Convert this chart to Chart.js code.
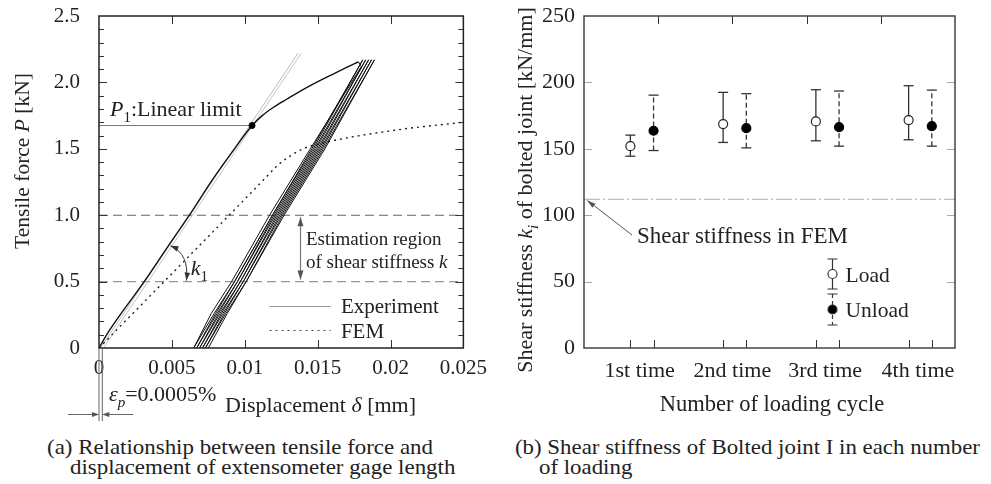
<!DOCTYPE html>
<html>
<head>
<meta charset="utf-8">
<script src="https://cdn.jsdelivr.net/npm/chart.js@4.4.0/dist/chart.umd.min.js"></script>
<style>
  body { margin: 0; background: #fff; }
  #wrap { position: relative; width: 991px; height: 484px; overflow: hidden; font-family: 'Liberation Serif', 'Times New Roman', serif; }
  canvas { position: absolute; top: 0; }
  #chartA { left: 0; }
  #chartB { left: 495px; }
  .cap { position: absolute; font-size: 21px; color: #222; white-space: nowrap; transform-origin: 0 0; line-height: 1; font-family: 'Liberation Serif', 'Times New Roman', serif; }
</style>
</head>
<body>
<div id="wrap">
  <canvas id="chartA" width="495" height="430"></canvas>
  <canvas id="chartB" width="496" height="430"></canvas>
  <div class="cap" id="capA1" style="left:47px;top:437px">(a) Relationship between tensile force and</div>
  <div class="cap" id="capA2" style="left:70px;top:457px">displacement of extensometer gage length</div>
  <div class="cap" id="capB1" style="left:515px;top:437px">(b) Shear stiffness of Bolted joint I in each number</div>
  <div class="cap" id="capB2" style="left:539px;top:457px">of loading</div>
</div>
<script>
// ---- (a) tensile force vs displacement ----
const expLoadX = [0, 0.0007, 0.0031, 0.0047, 0.0062, 0.0078, 0.0091, 0.0105, 0.0112, 0.0120, 0.0129, 0.0144, 0.0162, 0.0176, 0.0178];
const expLoadY = [0, 0.13, 0.50, 0.76, 1.00, 1.27, 1.47, 1.675, 1.75, 1.815, 1.875, 1.97, 2.07, 2.145, 2.155];

// unloading / reloading loops (down, up, down, ...)
const cycleX = [
  0.0178, 0.0180, 0.0145, 0.0117, 0.0091, 0.0077, 0.0065,
  0.0079, 0.0093, 0.0119, 0.0147, 0.0181,
  0.0146, 0.0119, 0.0093, 0.0080, 0.0067,
  0.0081, 0.0095, 0.0121, 0.0149, 0.0183,
  0.0148, 0.0120, 0.0095, 0.0082, 0.0069,
  0.0083, 0.0097, 0.0123, 0.0151, 0.0185,
  0.0150, 0.0122, 0.0097, 0.0084, 0.0071,
  0.0085, 0.0099, 0.0125, 0.0153, 0.0187,
  0.0152, 0.0124, 0.0099, 0.0086, 0.0073,
  0.0087, 0.0101, 0.0127, 0.0155, 0.0189,
  0.0154, 0.0126, 0.0101, 0.0088, 0.0075
];
const cycleY = [
  2.155, 2.12, 1.5, 1.0, 0.5, 0.26, 0,
  0.26, 0.5, 1.0, 1.5, 2.17,
  1.5, 1.0, 0.5, 0.26, 0,
  0.26, 0.5, 1.0, 1.5, 2.17,
  1.5, 1.0, 0.5, 0.26, 0,
  0.26, 0.5, 1.0, 1.5, 2.17,
  1.5, 1.0, 0.5, 0.26, 0,
  0.26, 0.5, 1.0, 1.5, 2.17,
  1.5, 1.0, 0.5, 0.26, 0,
  0.26, 0.5, 1.0, 1.5, 2.17,
  1.5, 1.0, 0.5, 0.26, 0
];

const femX = [0, 0.0115, 0.0122, 0.0129, 0.0140, 0.0156, 0.0203, 0.025];
const femY = [0, 1.29, 1.37, 1.43, 1.50, 1.55, 1.64, 1.70];

const tangent1X = [0.0001, 0.01366];
const tangent2X = [0.0003, 0.01388];
const tangentY = [0, 2.22];

const p1X = 0.0105;
const p1Y = 1.675;
const regionLevels = [1.0, 0.5];

// ---- (b) shear stiffness per loading cycle ----
const cycleLabels = ["1st time", "2nd time", "3rd time", "4th time"];
const labelPos = [0.6, 1.6, 2.6, 3.6];
const xLoad = [0.5, 1.5, 2.5, 3.5];
const xUnload = [0.75, 1.75, 2.75, 3.75];
const loadMean = [152, 168.6, 170.6, 171.6];
const loadLow = [144.4, 154.8, 156, 156.8];
const loadHigh = [160.3, 192.5, 194.5, 197.5];
const unloadMean = [163.6, 165.5, 166.3, 167];
const unloadLow = [148.7, 150.7, 152, 152];
const unloadHigh = [190.4, 191.5, 193.5, 194.2];
const femStiffness = 112;

const serif = "'Liberation Serif', 'Times New Roman', serif";
const ink = "#222";

Chart.defaults.font.family = serif;
Chart.defaults.font.size = 21;
Chart.defaults.color = ink;

function pts(xs, ys) {
  return xs.map((x, i) => ({ x: x, y: ys[i] }));
}

function barPoints(xs, lo, hi) {
  const out = [];
  xs.forEach((x, i) => {
    out.push({ x: x, y: lo[i] }, { x: x, y: hi[i] }, { x: x, y: null });
  });
  return out;
}

// text with italic / subscript pieces
function rich(ctx, parts, x, y, size, align) {
  const seg = parts.map(([t, st]) => {
    const sub = st.indexOf("s") >= 0, it = st.indexOf("i") >= 0;
    const fs = sub ? Math.round(size * 0.7) : size;
    const font = (it ? "italic " : "") + fs + "px " + serif;
    ctx.font = font;
    return { t: t, font: font, dy: sub ? Math.round(size * 0.28) : 0, w: ctx.measureText(t).width };
  });
  const total = seg.reduce((s, g) => s + g.w, 0);
  let cx = align === "center" ? x - total / 2 : x;
  ctx.textAlign = "left";
  ctx.textBaseline = "alphabetic";
  seg.forEach((g) => {
    ctx.font = g.font;
    ctx.fillText(g.t, cx, y + g.dy);
    cx += g.w;
  });
}

function arrowHead(ctx, x, y, ang, len, half) {
  len = len || 7;
  half = half || 2.5;
  const c = Math.cos(ang), s = Math.sin(ang);
  ctx.beginPath();
  ctx.moveTo(x, y);
  ctx.lineTo(x - len * c + half * s, y - len * s - half * c);
  ctx.lineTo(x - len * c - half * s, y - len * s + half * c);
  ctx.closePath();
  ctx.fill();
}

const crisp = (v) => Math.round(v) + 0.5;

// ---------- chart (a) ----------
const decorA = {
  id: "decorA",
  afterDatasetsDraw(chart) {
    const { ctx, chartArea: a } = chart;
    const xs = chart.scales.x, ys = chart.scales.y;
    const px = (v) => xs.getPixelForValue(v), py = (v) => ys.getPixelForValue(v);
    ctx.save();

    // inner ticks
    ctx.strokeStyle = "#333";
    ctx.lineWidth = 1;
    ctx.beginPath();
    for (let k = 1; k < 5; k++) {
      const p = crisp(px(k * 0.005));
      ctx.moveTo(p, a.bottom); ctx.lineTo(p, a.bottom - 8);
      ctx.moveTo(p, a.top); ctx.lineTo(p, a.top + 8);
    }
    for (let k = 1; k < 25; k++) {
      const p = crisp(py(k / 10));
      const len = k % 5 === 0 ? 8 : 5;
      ctx.moveTo(a.left, p); ctx.lineTo(a.left + len, p);
      ctx.moveTo(a.right, p); ctx.lineTo(a.right - len, p);
    }
    ctx.stroke();

    // frame
    ctx.strokeStyle = ink;
    ctx.lineWidth = 1.5;
    ctx.strokeRect(a.left, a.top, a.right - a.left, a.bottom - a.top);

    ctx.fillStyle = ink;
    // P1 label
    rich(ctx, [["P", "i"], ["1", "s"], [":Linear limit", ""]], a.left + 11, py(p1Y) - 10, 22);

    // estimation region double arrow
    ctx.strokeStyle = "#777";
    ctx.fillStyle = "#555";
    ctx.lineWidth = 1.2;
    const ax = crisp(px(0.0138));
    ctx.beginPath();
    ctx.moveTo(ax, py(regionLevels[0]) + 2);
    ctx.lineTo(ax, py(regionLevels[1]) - 2);
    ctx.stroke();
    arrowHead(ctx, ax, py(regionLevels[0]) + 2, -Math.PI / 2, 9, 3);
    arrowHead(ctx, ax, py(regionLevels[1]) - 2, Math.PI / 2, 9, 3);
    ctx.fillStyle = ink;
    rich(ctx, [["Estimation region", ""]], px(0.0142), py(regionLevels[0]) + 30, 19);
    rich(ctx, [["of shear stiffness ", ""], ["k", "i"]], px(0.0142), py(regionLevels[1]) - 14, 19);

    // k1 arc arrow
    const sx = px(0.0049), sy = py(0.77);
    const ex = px(0.0060), ey = py(0.5) - 1;
    const cx = px(0.0062), cy = py(0.71);
    ctx.strokeStyle = "#333";
    ctx.fillStyle = "#333";
    ctx.lineWidth = 1;
    ctx.beginPath();
    ctx.moveTo(sx, sy);
    ctx.quadraticCurveTo(cx, cy, ex, ey);
    ctx.stroke();
    arrowHead(ctx, sx, sy, Math.atan2(sy - cy, sx - cx), 8, 2.8);
    arrowHead(ctx, ex, ey, Math.atan2(ey - cy, ex - cx), 8, 2.8);
    ctx.fillStyle = ink;
    rich(ctx, [["k", "i"], ["1", "s"]], px(0.0063), py(0.5) - 7, 22);

    // legend
    ctx.lineWidth = 1.2;
    ctx.strokeStyle = "#999";
    ctx.beginPath();
    ctx.moveTo(px(0.0117), crisp(306)); ctx.lineTo(px(0.0159), crisp(306));
    ctx.stroke();
    ctx.strokeStyle = "#444";
    ctx.setLineDash([2, 4]);
    ctx.beginPath();
    ctx.moveTo(px(0.0117), crisp(330)); ctx.lineTo(px(0.0159), crisp(330));
    ctx.stroke();
    ctx.setLineDash([]);
    rich(ctx, [["Experiment", ""]], px(0.0166), 313, 21);
    rich(ctx, [["FEM", ""]], px(0.0166), 338, 21);

    // residual strain marker below axis
    const z0 = px(0), z1 = px(0) + 3.3;
    ctx.strokeStyle = "#666";
    ctx.fillStyle = "#555";
    ctx.lineWidth = 1;
    ctx.beginPath();
    ctx.moveTo(z0, a.bottom); ctx.lineTo(z0, 421);
    ctx.moveTo(z1, a.bottom); ctx.lineTo(z1, 421);
    ctx.moveTo(z0 - 31, 414.5); ctx.lineTo(z0 - 1, 414.5);
    ctx.moveTo(z1 + 31, 414.5); ctx.lineTo(z1 + 1, 414.5);
    ctx.stroke();
    arrowHead(ctx, z0, 414.5, 0, 7, 2.5);
    arrowHead(ctx, z1, 414.5, Math.PI, 7, 2.5);
    ctx.fillStyle = ink;
    rich(ctx, [["\u03b5", "i"], ["p", "is"], ["=0.0005%", ""]], z0 + 10, 401, 22);

    // axis titles
    rich(ctx, [["Displacement ", ""], ["\u03b4", "i"], [" [mm]", ""]], 225, 412, 22);
    ctx.save();
    ctx.translate(29, 161);
    ctx.rotate(-Math.PI / 2);
    rich(ctx, [["Tensile force ", ""], ["P", "i"], [" [kN]", ""]], 0, 0, 21.5, "center");
    ctx.restore();

    ctx.restore();
  }
};

new Chart(document.getElementById("chartA"), {
  type: "scatter",
  data: {
    datasets: [
      { data: [{ x: p1X, y: p1Y }], pointRadius: 3, backgroundColor: "#000", borderColor: "#000" },
      { data: pts(expLoadX, expLoadY), showLine: true, borderColor: "#111", borderWidth: 1.4, pointRadius: 0, cubicInterpolationMode: "monotone" },
      { data: pts(cycleX, cycleY), showLine: true, borderColor: "#111", borderWidth: 1, pointRadius: 0 },
      { data: pts(femX, femY), showLine: true, borderColor: "#222", borderWidth: 1.4, borderDash: [2, 4], pointRadius: 0, cubicInterpolationMode: "monotone" },
      { data: pts(tangent1X, tangentY), showLine: true, borderColor: "#bbb", borderWidth: 1, pointRadius: 0 },
      { data: pts(tangent2X, tangentY), showLine: true, borderColor: "#c4c4c4", borderWidth: 1, pointRadius: 0 },
      { data: [{ x: 0, y: p1Y }, { x: p1X, y: p1Y }], showLine: true, borderColor: "#777", borderWidth: 1, pointRadius: 0 },
      { data: [{ x: 0, y: regionLevels[0] }, { x: 0.025, y: regionLevels[0] }], showLine: true, borderColor: "#666", borderWidth: 1.1, borderDash: [9, 5], pointRadius: 0 },
      { data: [{ x: 0, y: regionLevels[1] }, { x: 0.025, y: regionLevels[1] }], showLine: true, borderColor: "#999", borderWidth: 1.1, borderDash: [9, 5], pointRadius: 0 }
    ]
  },
  options: {
    responsive: false,
    animation: false,
    devicePixelRatio: 1,
    events: [],
    layout: { padding: { top: 16, right: 25, left: 0, bottom: 0 } },
    plugins: { legend: { display: false }, tooltip: { enabled: false } },
    scales: {
      x: {
        type: "linear",
        min: 0,
        max: 0.025,
        grid: { display: false, drawTicks: false },
        border: { display: false },
        ticks: {
          stepSize: 0.005,
          padding: 8,
          maxRotation: 0,
          callback: (v) => (v === 0 ? "0" : String(+v.toFixed(3)))
        },
        afterFit: (s) => { s.height = 82; }
      },
      y: {
        min: 0,
        max: 2.5,
        grid: { display: false, drawTicks: false },
        border: { display: false },
        ticks: {
          stepSize: 0.5,
          padding: 19,
          callback: (v) => (v === 0 ? "0" : v.toFixed(1))
        },
        afterFit: (s) => { s.width = 99; s.paddingTop = 0; s.paddingBottom = 0; }
      }
    }
  },
  plugins: [decorA]
});

// ---------- chart (b) ----------
const decorB = {
  id: "decorB",
  afterDatasetsDraw(chart) {
    const { ctx, chartArea: a } = chart;
    const xs = chart.scales.x, ys = chart.scales.y;
    const px = (v) => xs.getPixelForValue(v), py = (v) => ys.getPixelForValue(v);
    ctx.save();

    ctx.lineWidth = 1;
    ctx.strokeStyle = "#aaa";
    ctx.beginPath();
    [50, 100, 150, 200].forEach((v) => {
      const p = crisp(py(v));
      ctx.moveTo(a.left, p); ctx.lineTo(a.left + 8, p);
      ctx.moveTo(a.right, p); ctx.lineTo(a.right - 8, p);
    });
    ctx.stroke();
    ctx.strokeStyle = "#333";
    ctx.beginPath();
    xLoad.concat(xUnload).forEach((v) => {
      const p = crisp(px(v));
      ctx.moveTo(p, a.bottom); ctx.lineTo(p, a.bottom - 8);
    });
    [0.8, 1.6, 2.4, 3.2].forEach((v) => {
      const p = crisp(px(v));
      ctx.moveTo(p, a.top); ctx.lineTo(p, a.top + 8);
    });
    ctx.stroke();

    ctx.strokeStyle = "#444";
    ctx.lineWidth = 1.5;
    ctx.strokeRect(a.left, a.top, a.right - a.left, a.bottom - a.top);

    // FEM pointer
    const tx = px(0.02), ty = py(femStiffness);
    const fx = a.left + 48, fy = 235;
    ctx.strokeStyle = "#555";
    ctx.fillStyle = "#555";
    ctx.lineWidth = 1;
    ctx.beginPath();
    ctx.moveTo(fx, fy); ctx.lineTo(tx + 2, ty + 1.5);
    ctx.stroke();
    arrowHead(ctx, tx + 1, ty + 1, Math.atan2(ty - fy, tx - fx), 9, 2.6);
    ctx.fillStyle = ink;
    rich(ctx, [["Shear stiffness in FEM", ""]], a.left + 53, 243, 23);

    // legend
    const lx = crisp(a.left + 248);
    ctx.strokeStyle = "#333";
    ctx.lineWidth = 1.2;
    ctx.beginPath();
    ctx.moveTo(lx, 259); ctx.lineTo(lx, 289);
    ctx.moveTo(lx - 5, 259); ctx.lineTo(lx + 5, 259);
    ctx.moveTo(lx - 5, 289); ctx.lineTo(lx + 5, 289);
    ctx.moveTo(lx - 5, 294); ctx.lineTo(lx + 5, 294);
    ctx.moveTo(lx - 5, 325); ctx.lineTo(lx + 5, 325);
    ctx.stroke();
    ctx.setLineDash([4, 3]);
    ctx.beginPath();
    ctx.moveTo(lx, 294); ctx.lineTo(lx, 325);
    ctx.stroke();
    ctx.setLineDash([]);
    ctx.fillStyle = "#fff";
    ctx.beginPath(); ctx.arc(lx, 274, 4.5, 0, Math.PI * 2); ctx.fill(); ctx.stroke();
    ctx.fillStyle = "#000";
    ctx.beginPath(); ctx.arc(lx, 309.5, 4.5, 0, Math.PI * 2); ctx.fill(); ctx.stroke();
    ctx.fillStyle = ink;
    rich(ctx, [["Load", ""]], lx + 13, 282, 21.5);
    rich(ctx, [["Unload", ""]], lx + 13, 317, 21.5);

    // axis titles
    rich(ctx, [["Number of loading cycle", ""]], 277, 411, 22.5, "center");
    ctx.save();
    ctx.translate(37, 190);
    ctx.rotate(-Math.PI / 2);
    rich(ctx, [["Shear stiffness ", ""], ["k", "i"], ["i", "is"], [" of bolted joint [kN/mm]", ""]], 0, 0, 22, "center");
    ctx.restore();

    ctx.restore();
  }
};

new Chart(document.getElementById("chartB"), {
  type: "scatter",
  data: {
    datasets: [
      { data: pts(xLoad, loadMean), pointRadius: 4.5, pointBorderWidth: 1.2, backgroundColor: "#fff", borderColor: "#222" },
      { data: pts(xUnload, unloadMean), pointRadius: 4.5, pointBorderWidth: 1.2, backgroundColor: "#000", borderColor: "#000" },
      { data: barPoints(xLoad, loadLow, loadHigh), showLine: true, spanGaps: false, borderColor: "#333", borderWidth: 1.3, pointStyle: "line", pointRadius: 5, pointBorderWidth: 1.3, pointBorderColor: "#333" },
      { data: barPoints(xUnload, unloadLow, unloadHigh), showLine: true, spanGaps: false, borderColor: "#333", borderWidth: 1.3, borderDash: [5, 3], pointStyle: "line", pointRadius: 5, pointBorderWidth: 1.3, pointBorderColor: "#333" },
      { data: [{ x: 0, y: femStiffness }, { x: 4, y: femStiffness }], showLine: true, borderColor: "#aaa", borderWidth: 1.2, borderDash: [16, 3, 2, 3], pointRadius: 0 }
    ]
  },
  options: {
    responsive: false,
    animation: false,
    devicePixelRatio: 1,
    events: [],
    layout: { padding: { top: 16, right: 36, left: 0, bottom: 0 } },
    plugins: { legend: { display: false }, tooltip: { enabled: false } },
    scales: {
      x: {
        type: "linear",
        min: 0,
        max: 4,
        grid: { display: false, drawTicks: false },
        border: { display: false },
        afterBuildTicks: (s) => { s.ticks = labelPos.map((v) => ({ value: v })); },
        ticks: {
          autoSkip: false,
          maxRotation: 0,
          padding: 10,
          font: { size: 22 },
          callback: (v, i) => cycleLabels[i]
        },
        afterFit: (s) => { s.height = 82; }
      },
      y: {
        min: 0,
        max: 250,
        grid: { display: false, drawTicks: false },
        border: { display: false },
        ticks: { stepSize: 50, padding: 9, font: { size: 22 } },
        afterFit: (s) => { s.width = 89; s.paddingTop = 0; s.paddingBottom = 0; }
      }
    }
  },
  plugins: [decorB]
});

// captions: stretch to the widths measured on the original
function fitCaption(id, width) {
  const el = document.getElementById(id);
  const k = width / el.getBoundingClientRect().width;
  el.style.transform = "scaleX(" + k + ")";
  return k;
}
const kA = fitCaption("capA1", 386);
document.getElementById("capA2").style.transform = "scaleX(" + kA + ")";
const kB = fitCaption("capB1", 465);
document.getElementById("capB2").style.transform = "scaleX(" + kB + ")";
</script>
</body>
</html>
